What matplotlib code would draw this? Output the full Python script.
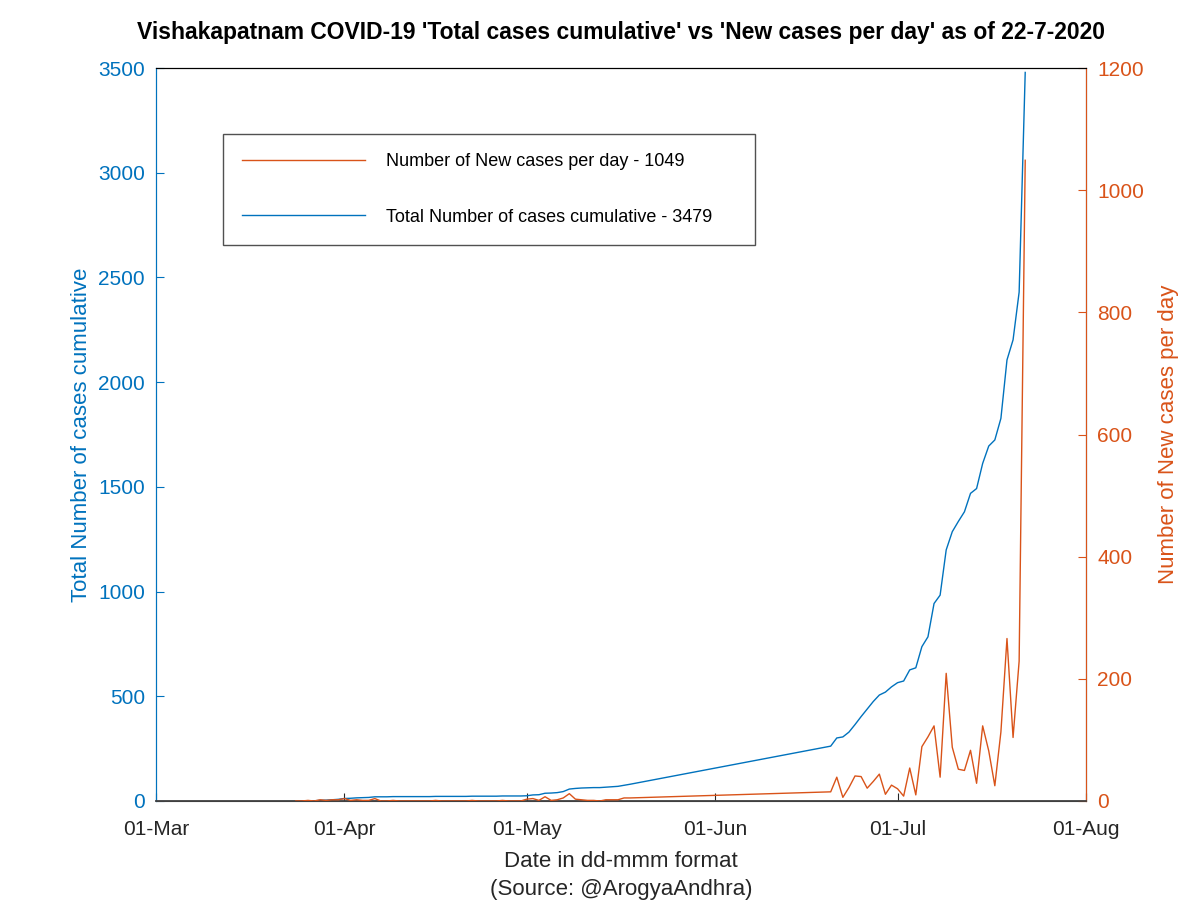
import numpy as np
import pandas as pd
import matplotlib
matplotlib.use("Agg")
import matplotlib.pyplot as plt
import matplotlib.dates as mdates

plt.rcParams['font.family'] = ['Liberation Sans', 'DejaVu Sans']

# data: early period (24-Mar .. 18-May) and late period (20-Jun .. 22-Jul)
early_start, early_end = "2020-03-24", "2020-05-18"
late_start, late_end = "2020-06-20", "2020-07-22"

early_total = [0, 0, 1, 1, 3, 4, 6, 8,
               12, 13, 15, 16, 17, 20, 20, 20, 21, 21, 21, 21, 21, 21, 21, 22, 22,
               22, 22, 22, 22, 23, 23, 23, 23, 23, 24, 24, 24, 24,
               25, 29, 30, 37, 38, 40, 45, 57, 60, 62, 63, 64, 64, 66, 68, 70, 75, 80]
early_new = [0, 0, 1, 0, 2, 1, 2, 2,
             4, 1, 2, 1, 1, 4, 0, 0, 1, 0, 0, 0, 0, 0, 0, 1, 0,
             0, 0, 0, 0, 1, 0, 0, 0, 0, 1, 0, 0, 0,
             3, 4, 1, 7, 1, 2, 5, 12, 3, 2, 1, 1, 0, 2, 2, 2, 5, 5]

late_total = [262, 301, 306, 329, 365, 403, 439, 475, 506, 520, 545,
              565, 573, 626, 636, 737, 784, 943, 983, 1199, 1286, 1335,
              1381, 1469, 1492, 1612, 1695, 1724, 1827, 2106, 2202, 2430, 3479]
late_new = [15, 39, 6, 22, 41, 40, 21, 32, 44, 11, 26,
            20, 8, 54, 10, 89, 105, 123, 39, 209, 88, 52,
            50, 83, 29, 123, 82, 25, 113, 266, 104, 229, 1049]

dates = list(pd.date_range(early_start, early_end)) + list(pd.date_range(late_start, late_end))
total = early_total + late_total
new = early_new + late_new

blue = "#0072BD"
red = "#D95319"

fig = plt.figure(figsize=(12, 9), dpi=100)
ax = fig.add_axes([0.13, 0.11, 0.775, 0.8144])
ax2 = ax.twinx()

l1, = ax.plot(dates, total, color=blue, lw=1.0)
l2, = ax2.plot(dates, new, color=red, lw=1.0, zorder=3)

ax.set_xlim(pd.Timestamp("2020-03-01"), pd.Timestamp("2020-08-01"))
ax.set_ylim(0, 3500)
ax2.set_ylim(0, 1200)
ax.set_yticks(np.arange(0, 3501, 500))
ax2.set_yticks(np.arange(0, 1201, 200))

xt = pd.to_datetime(["2020-03-01", "2020-04-01", "2020-05-01", "2020-06-01", "2020-07-01", "2020-08-01"])
ax.set_xticks(xt)
ax.xaxis.set_major_formatter(mdates.DateFormatter("%d-%b"))

ax.tick_params(axis='x', direction='in', length=6, labelsize=15, pad=14, colors='#262626')
ax.tick_params(axis='y', direction='in', length=6, labelsize=15, colors=blue, pad=8)
ax2.tick_params(axis='y', direction='in', length=6, labelsize=15, colors=red, pad=8)

ax.spines['left'].set_color(blue)
ax2.spines['left'].set_color(blue)
ax2.spines['right'].set_color(red)
ax.spines['bottom'].set_color('#404040')
ax2.spines['bottom'].set_color('#404040')
ax2.spines['bottom'].set_linewidth(1.3)
ax.spines['top'].set_color('black')
ax2.spines['top'].set_color('black')

ax.set_ylabel("Total Number of cases cumulative", fontsize=16, color=blue, labelpad=4)
ax2.set_ylabel("Number of New cases per day", fontsize=16, color=red, labelpad=10)
ax.set_xlabel("Date in dd-mmm format\n(Source: @ArogyaAndhra)", fontsize=16, color='#262626',
              labelpad=8, linespacing=1.45)

ax.set_title("Vishakapatnam COVID-19 'Total cases cumulative' vs 'New cases per day' as of 22-7-2020",
             fontsize=16.5, fontweight='bold', pad=21)

leg = ax2.legend([l2, l1],
                 ["Number of New cases per day - 1049", "Total Number of cases cumulative - 3479"],
                 loc='upper left', bbox_to_anchor=(0.072, 0.91, 0.572, 0.0), mode='expand',
                 fontsize=13, frameon=True, fancybox=False, edgecolor='#262626',
                 handlelength=6.8, handletextpad=1.2, labelspacing=2.15,
                 borderpad=1.05, borderaxespad=0)
leg.get_frame().set_linewidth(1.0)

fig.savefig("out.png", dpi=100)
